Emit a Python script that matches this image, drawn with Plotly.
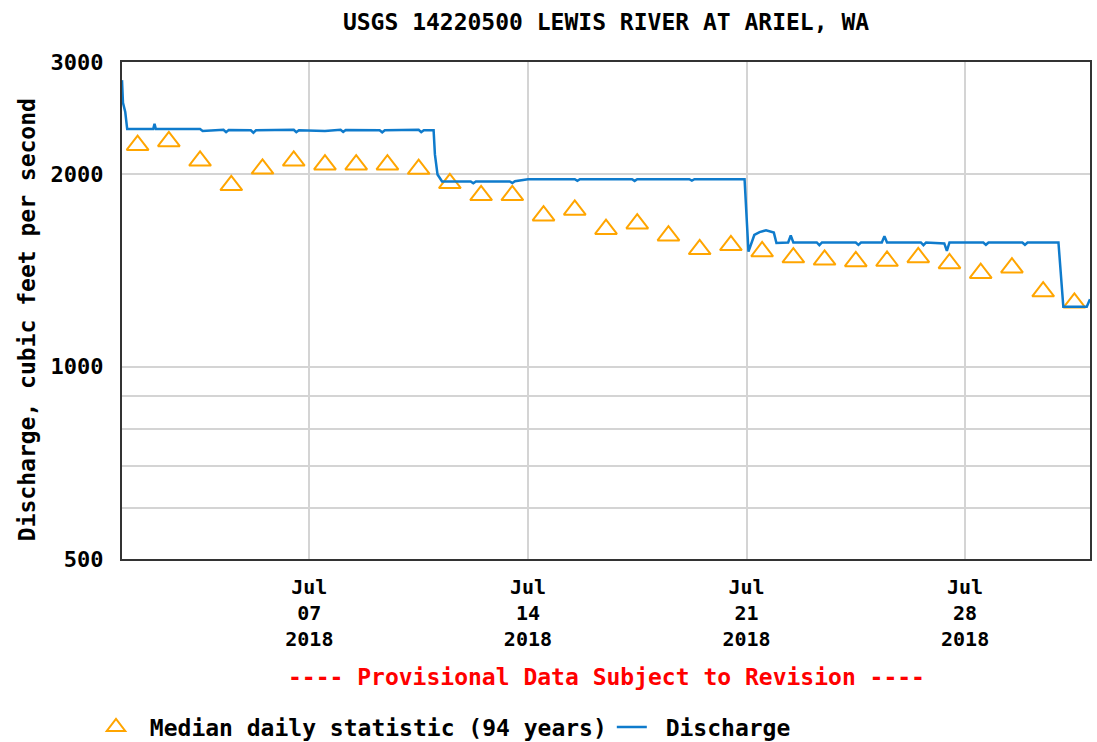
import plotly.graph_objects as go

# ---- data ----
median_dates = [f"2018-07-{d:02d} 12:00" for d in range(1, 32)]
median_values = [2223, 2253, 2101, 1923, 2041, 2101, 2072, 2072, 2072, 2039,
                 1937, 1855, 1855, 1724, 1760, 1642, 1675, 1604, 1527, 1549,
                 1515, 1482, 1470, 1462, 1464, 1483, 1451, 1401, 1429, 1311, 1259]

discharge_times = [
    "2018-07-01 00:00", "2018-07-01 00:45", "2018-07-01 02:30", "2018-07-01 04:00",
    "2018-07-02 00:00", "2018-07-02 01:00", "2018-07-02 02:00",
    "2018-07-03 12:00", "2018-07-03 14:00", "2018-07-04 06:00", "2018-07-04 08:00",
    "2018-07-04 10:00", "2018-07-05 03:00", "2018-07-05 05:00", "2018-07-05 07:00",
    "2018-07-06 12:00", "2018-07-06 14:00", "2018-07-06 16:00", "2018-07-07 12:00",
    "2018-07-08 00:00", "2018-07-08 02:00", "2018-07-08 04:00", "2018-07-09 06:00",
    "2018-07-09 08:00", "2018-07-09 10:00", "2018-07-10 12:00", "2018-07-10 14:00",
    "2018-07-10 16:00", "2018-07-10 23:30", "2018-07-11 00:30", "2018-07-11 02:30",
    "2018-07-11 06:00", "2018-07-12 04:00", "2018-07-12 06:00", "2018-07-12 08:00",
    "2018-07-13 10:00", "2018-07-13 12:00", "2018-07-13 14:00", "2018-07-14 00:00",
    "2018-07-15 12:00", "2018-07-15 14:00", "2018-07-15 16:00", "2018-07-17 08:00",
    "2018-07-17 10:00", "2018-07-17 12:00", "2018-07-19 04:00", "2018-07-19 06:00",
    "2018-07-19 08:00", "2018-07-20 22:30", "2018-07-21 01:30", "2018-07-21 06:00",
    "2018-07-21 10:00", "2018-07-21 15:00", "2018-07-21 21:00", "2018-07-21 23:00",
    "2018-07-22 08:00", "2018-07-22 10:00", "2018-07-22 12:00", "2018-07-23 06:00",
    "2018-07-23 08:00", "2018-07-23 10:00", "2018-07-24 12:00", "2018-07-24 14:00",
    "2018-07-24 16:00", "2018-07-25 08:00", "2018-07-25 10:00", "2018-07-25 12:00",
    "2018-07-26 14:00", "2018-07-26 16:00", "2018-07-26 18:00", "2018-07-27 08:00",
    "2018-07-27 10:00", "2018-07-27 12:00", "2018-07-28 14:00", "2018-07-28 16:00",
    "2018-07-28 18:00", "2018-07-29 20:00", "2018-07-29 22:00", "2018-07-30 00:00",
    "2018-07-30 23:45", "2018-07-31 03:30", "2018-07-31 21:30", "2018-08-01 00:00",
]
discharge_values = [
    2810, 2590, 2505, 2356,
    2356, 2400, 2356,
    2356, 2340, 2350, 2330,
    2348, 2345, 2325, 2345,
    2350, 2330, 2345, 2340,
    2350, 2332, 2348, 2345,
    2328, 2345, 2350, 2330,
    2345, 2345, 2150, 2000,
    1950, 1950, 1938, 1950,
    1950, 1940, 1952, 1966,
    1966, 1955, 1966, 1966,
    1954, 1966, 1966, 1956,
    1966, 1966, 1514, 1608,
    1625, 1635, 1622, 1562,
    1565, 1605, 1565, 1565,
    1550, 1565, 1565, 1552,
    1565, 1565, 1600, 1565,
    1565, 1550, 1565, 1560,
    1518, 1565, 1565, 1552,
    1565, 1565, 1552, 1565,
    1565, 1241, 1241, 1276,
]

y_tick_vals = [500, 600, 700, 800, 900, 1000, 2000, 3000]
y_tick_text = ["500", "", "", "", "", "1000", "2000", "3000"]
x_tick_vals = ["2018-07-07", "2018-07-14", "2018-07-21", "2018-07-28"]
x_tick_text = ["Jul<br>07<br>2018", "Jul<br>14<br>2018", "Jul<br>21<br>2018", "Jul<br>28<br>2018"]

FONT = "DejaVu Sans Mono"

fig = go.Figure()
fig.add_trace(go.Scatter(
    x=median_dates, y=median_values, mode="markers",
    name="\u00a0Median daily statistic (94 years)",
    marker=dict(symbol="triangle-up-open", size=19, color="#FFA500",
                line=dict(width=2, color="#FFA500")),
))
fig.add_trace(go.Scatter(
    x=discharge_times, y=discharge_values, mode="lines",
    name="\u00a0Discharge", line=dict(color="#0f7bcc", width=2.5),
))

fig.update_layout(
    width=1097, height=742,
    margin=dict(l=122, r=5, t=62, b=183),
    paper_bgcolor="white", plot_bgcolor="white",
    font=dict(family=FONT, size=22, color="black", weight="bold"),
    title=dict(text="USGS 14220500 LEWIS RIVER AT ARIEL, WA",
               x=0.5, xref="paper", y=1 - 22 / 742, yref="container",
               xanchor="center", yanchor="middle",
               font=dict(family=FONT, size=23, color="black", weight="bold")),
    showlegend=True,
    legend=dict(orientation="h", xref="container", yref="container",
                x=96 / 1097, y=1 - 727 / 742, xanchor="left", yanchor="middle",
                font=dict(family=FONT, size=23, color="black", weight="bold"),
                bgcolor="rgba(0,0,0,0)", itemwidth=30),
)

fig.update_xaxes(
    type="date", range=["2018-07-01 00:00", "2018-08-01 00:00"],
    tickvals=x_tick_vals, ticktext=x_tick_text, ticks="",
    showgrid=True, gridcolor="#d4d4d4", gridwidth=2,
    showline=True, linecolor="#333333", linewidth=2, mirror=True,
    tickfont=dict(family=FONT, size=20, color="black", weight="bold"),
    ticklabelstandoff=9, zeroline=False,
)
fig.update_yaxes(
    type="log", range=[2.69897, 3.4771213],
    tickvals=y_tick_vals, ticktext=y_tick_text, ticks="",
    showgrid=True, gridcolor="#d4d4d4", gridwidth=2,
    showline=True, linecolor="#333333", linewidth=2, mirror=True,
    tickfont=dict(family=FONT, size=22, color="black", weight="bold"),
    ticklabelstandoff=12, zeroline=False,
)

fig.add_annotation(
    text="Discharge, cubic feet per second", textangle=-90,
    xref="paper", yref="paper", x=(27 - 122) / 970, y=(559 - 320) / 497,
    xanchor="center", yanchor="middle", showarrow=False,
    font=dict(family=FONT, size=23, color="black", weight="bold"),
)
fig.add_annotation(
    text="---- Provisional Data Subject to Revision ----",
    xref="paper", yref="paper", x=0.5, y=(559 - 677) / 497,
    xanchor="center", yanchor="middle", showarrow=False,
    font=dict(family=FONT, size=23, color="#ff0000", weight="bold"),
)

fig.write_html("out.html", config={"displayModeBar": False},
               post_script="document.body.style.margin='0';document.body.style.overflow='hidden';")
